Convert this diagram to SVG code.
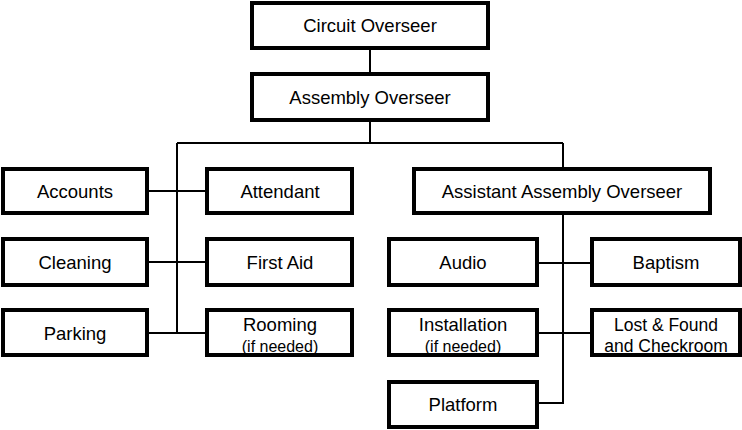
<svg xmlns="http://www.w3.org/2000/svg" width="742" height="430" viewBox="0 0 742 430">
<style>
.box{fill:#fff;stroke:#000;stroke-width:4}
.t{font-family:"Liberation Sans",Arial,sans-serif;font-size:18.5px;fill:#000;text-anchor:middle}
.t2{font-family:"Liberation Sans",Arial,sans-serif;font-size:17.5px;fill:#000;text-anchor:middle}
.s{font-family:"Liberation Sans",Arial,sans-serif;font-size:16px;fill:#000;text-anchor:middle}
#connectors path{fill:none;stroke:#000;stroke-width:2}
</style>
<rect width="742" height="430" fill="#fff"/>
<g id="connectors">
<path d="M370,50V72"/>
<path d="M370,122V143"/>
<path d="M177,143H563"/>
<path d="M177,143V333"/>
<path d="M149,191H205"/>
<path d="M149,262H205"/>
<path d="M149,333H205"/>
<path d="M563,143V167"/>
<path d="M563,215V403H539"/>
<path d="M539,263H590"/>
<path d="M539,333H590"/>
</g>
<g id="circuit-overseer"><rect class="box" x="252" y="3" width="236" height="45"/><text class="t" x="370" y="32">Circuit Overseer</text></g>
<g id="assembly-overseer"><rect class="box" x="252" y="74" width="236" height="46"/><text class="t" x="370" y="104">Assembly Overseer</text></g>
<g id="accounts"><rect class="box" x="3" y="169" width="144" height="44"/><text class="t" x="75" y="198">Accounts</text></g>
<g id="attendant"><rect class="box" x="207" y="169" width="145" height="44"/><text class="t" x="280" y="198">Attendant</text></g>
<g id="assistant-assembly-overseer"><rect class="box" x="414" y="169" width="296" height="44"/><text class="t" x="562" y="198">Assistant Assembly Overseer</text></g>
<g id="cleaning"><rect class="box" x="3" y="239" width="144" height="46"/><text class="t" x="75" y="269">Cleaning</text></g>
<g id="first-aid"><rect class="box" x="207" y="239" width="145" height="46"/><text class="t" x="280" y="269">First Aid</text></g>
<g id="audio"><rect class="box" x="389" y="239" width="148" height="46"/><text class="t" x="463" y="269">Audio</text></g>
<g id="baptism"><rect class="box" x="592" y="239" width="148" height="46"/><text class="t" x="666" y="269">Baptism</text></g>
<g id="parking"><rect class="box" x="3" y="310" width="144" height="45"/><text class="t" x="75" y="340">Parking</text></g>
<g id="rooming"><rect class="box" x="207" y="310" width="145" height="45"/><text class="t" x="280" y="331">Rooming</text><text class="s" x="280" y="352">(if needed)</text></g>
<g id="installation"><rect class="box" x="389" y="310" width="148" height="45"/><text class="t" x="463" y="331">Installation</text><text class="s" x="463" y="352">(if needed)</text></g>
<g id="lost-found"><rect class="box" x="592" y="310" width="148" height="45"/><text class="t2" x="666" y="331">Lost &amp; Found</text><text class="t2" x="666" y="352">and Checkroom</text></g>
<g id="platform"><rect class="box" x="389" y="382" width="148" height="45"/><text class="t" x="463" y="411">Platform</text></g>
</svg>
